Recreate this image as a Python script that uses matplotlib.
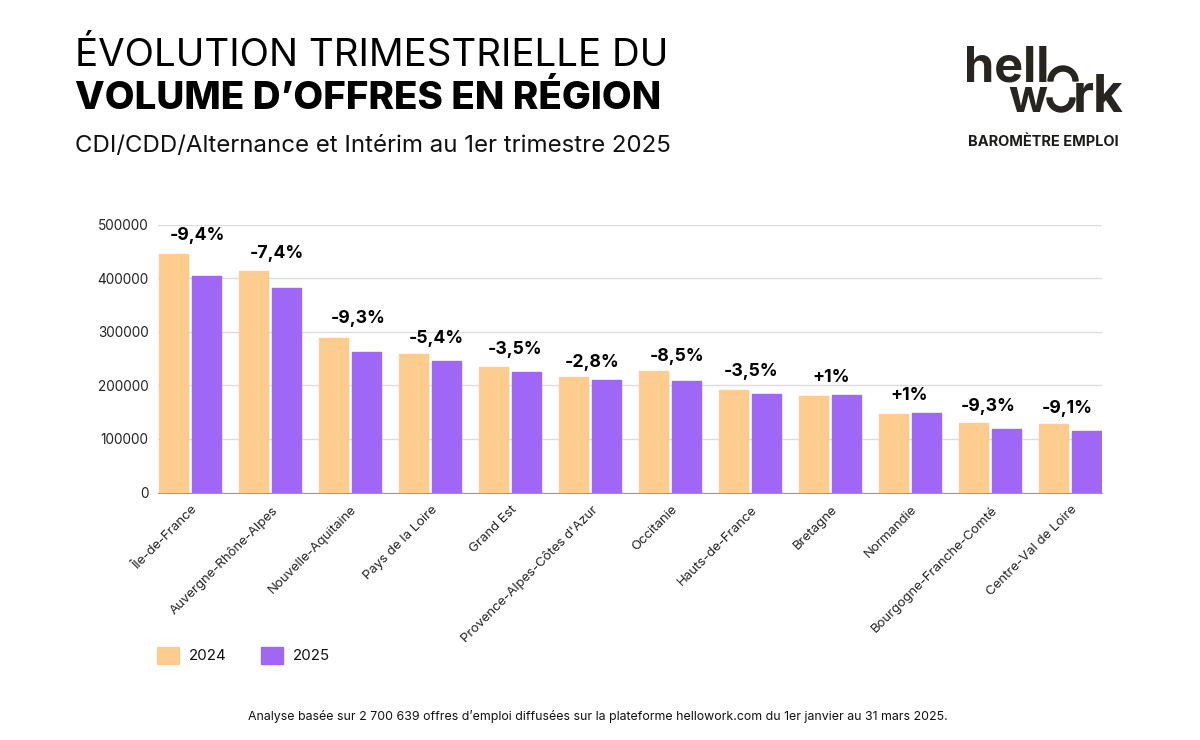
import matplotlib
matplotlib.use("Agg")
import matplotlib.pyplot as plt
from matplotlib.patches import Wedge, Patch
from matplotlib.ticker import MultipleLocator
from matplotlib.transforms import ScaledTranslation
import numpy as np

regions = ["Île-de-France", "Auvergne-Rhône-Alpes", "Nouvelle-Aquitaine", "Pays de la Loire",
           "Grand Est", "Provence-Alpes-Côtes d'Azur", "Occitanie", "Hauts-de-France",
           "Bretagne", "Normandie", "Bourgogne-Franche-Comté", "Centre-Val de Loire"]
v2024 = [447000, 414000, 290000, 260000, 236000, 217000, 228000, 193000, 182000, 148000, 132000, 129000]
v2025 = [405000, 383000, 264000, 246000, 227000, 211000, 209000, 186000, 184000, 149000, 120000, 117000]
changes = ["-9,4%", "-7,4%", "-9,3%", "-5,4%", "-3,5%", "-2,8%", "-8,5%", "-3,5%", "+1%", "+1%", "-9,3%", "-9,1%"]
label_dx = [7, 7, 8, 6, 5, 2, 7, 1, 1, -1, -2, -3]
label_dy = [19, 19, 21, 17, 19, 16, 16, 20, 18, 19, 17, 17]

plt.rcParams["font.family"] = ["Inter", "DejaVu Sans"]
W, H = 1200, 740
fig = plt.figure(figsize=(W / 100, H / 100), dpi=100, facecolor="white")
ax = fig.add_axes([158 / W, 1 - 492.5 / H, 944 / W, 268 / H])
x = np.arange(len(regions))
C24, C25 = "#FFCC8F", "#A066F5"
ink = "#111111"
bw = 0.37
off = 0.206
b1 = ax.bar(x - off, v2024, bw, color=C24, edgecolor=C24, lw=1, joinstyle="round", zorder=3, label="2024")
b2 = ax.bar(x + off, v2025, bw, color=C25, edgecolor=C25, lw=1, joinstyle="round", zorder=3, label="2025")
down = ScaledTranslation(0, -0.8 / 100, fig.dpi_scale_trans)
for p in list(b1) + list(b2):
    p.set_transform(ax.transData + down)
ax.set_xlim(-0.4, 11.4)
ax.set_ylim(0, 500000)
ax.yaxis.set_major_locator(MultipleLocator(100000))
ax.grid(axis="y", color="#dcdcdc", lw=1, zorder=0)
ax.set_axisbelow(True)
for s in ["top", "left", "right"]:
    ax.spines[s].set_visible(False)
ax.spines["bottom"].set_color("#9a9a9a")
ax.tick_params(axis="both", length=0)
ax.tick_params(axis="y", labelsize=9.8, labelcolor="#222222", pad=6.8)
ax.set_xticks(x)
ax.set_xticklabels(regions, rotation=45, ha="right", va="top", rotation_mode="anchor",
                   fontsize=9.5, color="#222222")
ax.tick_params(axis="x", pad=8)
for lab in ax.get_xticklabels():
    lab.set_transform(lab.get_transform() + ScaledTranslation(1 / 100, 0, fig.dpi_scale_trans))

for i, t in enumerate(changes):
    top = max(v2024[i], v2025[i])
    ax.annotate(t, (x[i], top), xytext=(label_dx[i] * 0.72, (label_dy[i] - 2) * 0.72), textcoords="offset points",
                ha="center", va="center", fontsize=12.7, fontweight="bold", color="black", zorder=5)

fig.legend(handles=[Patch(facecolor=C24, edgecolor=C24, label="2024", joinstyle="round"),
                    Patch(facecolor=C25, edgecolor=C25, label="2025", joinstyle="round")],
           loc="center left", bbox_to_anchor=(157 / W, 1 - 655.5 / H), bbox_transform=fig.transFigure,
           ncols=2, frameon=False, fontsize=10.8, handlelength=1.45, handleheight=1.45,
           handletextpad=0.7, columnspacing=2.25, borderpad=0, borderaxespad=0, labelcolor=ink)

ov = fig.add_axes([0, 0, 1, 1], zorder=10)
ov.set_xlim(0, W)
ov.set_ylim(H, 0)
ov.axis("off")
ov.patch.set_alpha(0)
ov.text(75, 66, "ÉVOLUTION TRIMESTRIELLE DU", fontsize=27.7, color="black", va="baseline", ha="left")
ov.text(75, 109, "VOLUME D’OFFRES EN RÉGION", fontsize=27.8, fontweight="heavy", color="black", va="baseline", ha="left")
ov.text(75, 152, "CDI/CDD/Alternance et Intérim au 1er trimestre 2025", fontsize=17.3, color="#111111", va="baseline", ha="left")
ov.text(598, 720, "Analyse basée sur 2 700 639 offres d’emploi diffusées sur la plateforme hellowork.com du 1er janvier au 31 mars 2025.",
        fontsize=8.9, color="#111111", ha="center", va="baseline")
ov.text(1043, 146, "BAROMÈTRE EMPLOI", fontsize=10.5, fontweight="bold", color="#1d1b18", ha="center", va="baseline")
logo = "#28241f"
ov.text(964, 81, "hell", fontsize=35, fontweight="bold", color=logo, va="baseline", ha="left")
ov.text(1008, 112, "w", fontsize=33, fontweight="bold", color=logo, va="baseline", ha="left")
ov.text(1073, 112, "rk", fontsize=37, fontweight="bold", color=logo, va="baseline", ha="left")
ov.add_patch(Wedge((1063, 81), 15, 180, 360, width=5, color=logo))
ov.add_patch(Wedge((1061, 98), 14, 0, 180, width=5, color=logo))

fig.savefig("out.png", dpi=100)
